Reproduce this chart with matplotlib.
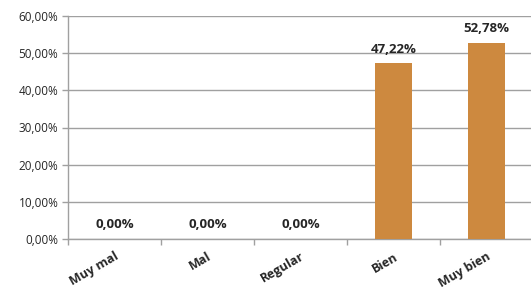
import numpy as np
import matplotlib
matplotlib.use('Agg')
import matplotlib.pyplot as plt
from matplotlib.ticker import FuncFormatter, FixedLocator

categories = ['Muy mal', 'Mal', 'Regular', 'Bien', 'Muy bien']
values = [0.0, 0.0, 0.0, 47.22, 52.78]

bar_color = '#CD893F'
grid_color = '#A0A0A0'
text_color = '#262626'

plt.rcParams['font.family'] = ['Open Sans', 'DejaVu Sans']

fig = plt.figure(figsize=(5.31, 2.91), dpi=100)
ax = fig.add_axes([68 / 531, 52 / 291, 465 / 531, 223 / 291])

x = np.arange(len(categories))
ax.bar(x, values, width=0.39, color=bar_color, zorder=3)

# value labels above bars
for xi, v in zip(x, values):
    ax.annotate(f'{v:.2f}%'.replace('.', ','), (xi, v), xytext=(0, 5.5),
                textcoords='offset points', ha='center', va='bottom',
                fontsize=9.5, fontweight='bold', color=text_color)

ax.set_xlim(-0.5, len(categories) - 0.5)
ax.set_ylim(0, 60)
ax.set_yticks(np.arange(0, 61, 10))
ax.yaxis.set_major_formatter(FuncFormatter(lambda v, p: f'{v:.2f}%'.replace('.', ',')))
ax.yaxis.grid(True, color=grid_color, linewidth=1, zorder=0)
ax.tick_params(axis='y', labelsize=8.5, colors=text_color, length=4, color=grid_color, width=1, pad=3)

ax.set_xticks(x)
ax.set_xticklabels(categories, rotation=30, ha='right', rotation_mode='anchor',
                   fontsize=9, fontweight='bold', color=text_color)
ax.tick_params(axis='x', which='major', length=0, pad=8)
ax.xaxis.set_minor_locator(FixedLocator(np.arange(-0.5, len(categories), 1.0)))
ax.tick_params(axis='x', which='minor', length=4, color=grid_color, width=1)

for s in ['top', 'right']:
    ax.spines[s].set_visible(False)
for s in ['left', 'bottom']:
    ax.spines[s].set_color(grid_color)
    ax.spines[s].set_linewidth(1)

fig.savefig('out.png', dpi=100)
